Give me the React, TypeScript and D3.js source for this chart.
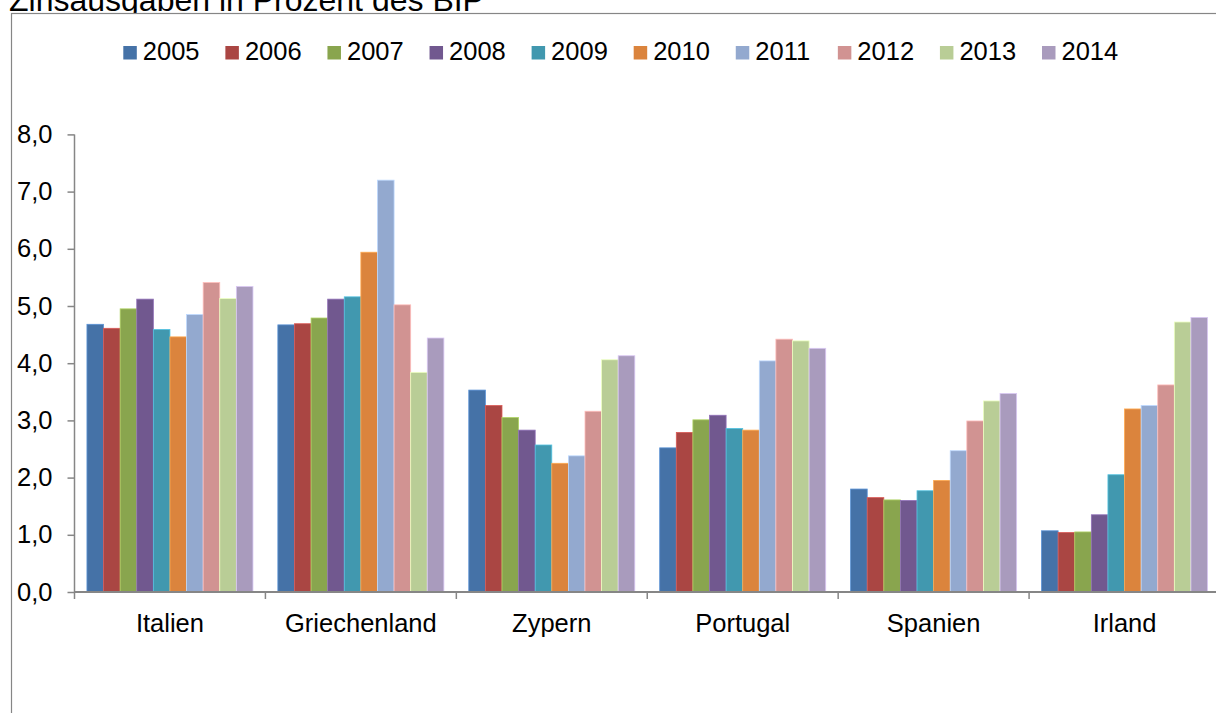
import { useEffect, useRef } from "react";
import * as d3 from "d3";

const countries = ["Italien", "Griechenland", "Zypern", "Portugal", "Spanien", "Irland"];
const years = ["2005", "2006", "2007", "2008", "2009", "2010", "2011", "2012", "2013", "2014"];
const colors = ["#4572A7", "#AA4643", "#89A54E", "#71588F", "#4198AF", "#DB843D", "#93A9CF", "#D19392", "#B9CD96", "#A99BBD"];

// Zinsausgaben in % des BIP, per country, 2005..2014
const italien = [4.68, 4.61, 4.95, 5.12, 4.59, 4.46, 4.85, 5.41, 5.13, 5.34];
const griechenland = [4.67, 4.69, 4.79, 5.12, 5.16, 5.94, 7.2, 5.02, 3.84, 4.44];
const zypern = [3.53, 3.26, 3.05, 2.83, 2.57, 2.25, 2.38, 3.16, 4.06, 4.13];
const portugal = [2.52, 2.79, 3.01, 3.09, 2.86, 2.83, 4.04, 4.42, 4.39, 4.26];
const spanien = [1.8, 1.65, 1.61, 1.6, 1.77, 1.95, 2.47, 2.99, 3.34, 3.47];
const irland = [1.07, 1.04, 1.05, 1.35, 2.05, 3.2, 3.26, 3.62, 4.72, 4.8];

const values = [italien, griechenland, zypern, portugal, spanien, irland];
const yTicks = [0, 1, 2, 3, 4, 5, 6, 7, 8];

const W = 1216;
const H = 713;
const FONT = "'Liberation Sans', Arial, sans-serif";

export default function App() {
  const ref = useRef<SVGSVGElement>(null);

  useEffect(() => {
    if (!ref.current) return;
    const svg = d3.select(ref.current);
    svg.selectAll("*").remove();

    const axisColor = "#868686";
    const margin = { left: 74.5, right: -4, top: 134.4, bottom: 121 };
    const plotBottom = H - margin.bottom;

    // title above the chart, mostly cut off by the page top
    svg.append("text")
      .attr("x", 9).attr("y", 11)
      .attr("font-family", FONT).attr("font-size", 32).attr("fill", "#000")
      .text("Zinsausgaben in Prozent des BIP");

    // chart area (white fill hides the title's descenders), runs off right/bottom
    svg.append("rect")
      .attr("x", 11.5).attr("y", 13.5)
      .attr("width", W + 20).attr("height", H + 20)
      .attr("fill", "white").attr("stroke", axisColor).attr("stroke-width", 1.2);

    const x0 = d3.scaleBand<string>()
      .domain(countries)
      .range([margin.left, W - margin.right])
      .padding(0);

    const x1 = d3.scaleBand<string>()
      .domain(years)
      .range([0, x0.bandwidth()])
      .paddingInner(0)
      .paddingOuter(0.75);

    const y = d3.scaleLinear().domain([0, 8]).range([plotBottom, margin.top]);

    // bars
    const groups = svg.append("g")
      .selectAll("g")
      .data(countries)
      .join("g")
      .attr("transform", (c) => `translate(${x0(c)},0)`);

    groups.selectAll("rect")
      .data((c) => values[countries.indexOf(c)].map((v, i) => ({ v, i })))
      .join("rect")
      .attr("x", (d) => x1(years[d.i])!)
      .attr("y", (d) => y(d.v))
      .attr("width", x1.bandwidth())
      .attr("height", (d) => y(0) - y(d.v))
      .attr("fill", (d) => colors[d.i])
      .attr("stroke", (d) => d3.color(colors[d.i])!.brighter(0.7).formatHex())
      .attr("stroke-width", 0.8);

    // y axis
    const yAxis = svg.append("g")
      .attr("transform", `translate(${margin.left},0)`)
      .call(d3.axisLeft(y).tickValues(yTicks).tickSize(7).tickPadding(15)
        .tickFormat((d) => d3.format(".1f")(d as number).replace(".", ",")));
    yAxis.select(".domain").attr("stroke", axisColor).attr("stroke-width", 1.5)
      .attr("d", `M0,${margin.top}V${plotBottom}`);
    yAxis.selectAll(".tick line").attr("stroke", axisColor).attr("stroke-width", 1.5);
    yAxis.selectAll(".tick text")
      .attr("font-family", FONT).attr("font-size", 25.5).attr("fill", "#000");

    // x axis
    const xAxis = svg.append("g").attr("transform", `translate(0,${plotBottom})`);
    xAxis.append("line")
      .attr("x1", margin.left).attr("x2", W)
      .attr("stroke", axisColor).attr("stroke-width", 2);
    xAxis.selectAll("line.tick")
      .data(countries)
      .join("line")
      .attr("class", "tick")
      .attr("x1", (c) => x0(c)!).attr("x2", (c) => x0(c)!)
      .attr("y1", 0).attr("y2", 7)
      .attr("stroke", axisColor).attr("stroke-width", 1.5);
    xAxis.selectAll("text")
      .data(countries)
      .join("text")
      .attr("x", (c) => x0(c)! + x0.bandwidth() / 2)
      .attr("y", 40)
      .attr("text-anchor", "middle")
      .attr("font-family", FONT).attr("font-size", 25.5).attr("fill", "#000")
      .text((c) => c);

    // legend
    const legendX = d3.scaleLinear().domain([0, years.length - 1]).range([123.3, 1042]);
    const legend = svg.append("g")
      .selectAll("g")
      .data(years)
      .join("g")
      .attr("transform", (_, i) => `translate(${legendX(i)},0)`);
    legend.append("rect")
      .attr("x", 0).attr("y", 46)
      .attr("width", 13.5).attr("height", 13.5)
      .attr("fill", (_, i) => colors[i]);
    legend.append("text")
      .attr("x", 19.5).attr("y", 60)
      .attr("font-family", FONT).attr("font-size", 25.5).attr("fill", "#000")
      .text((d) => d);
  }, []);

  return (
    <div style={{ position: "absolute", left: 0, top: 0, width: W, height: H, overflow: "hidden", background: "white" }}>
      <svg ref={ref} width={W} height={H} style={{ display: "block" }} />
    </div>
  );
}
